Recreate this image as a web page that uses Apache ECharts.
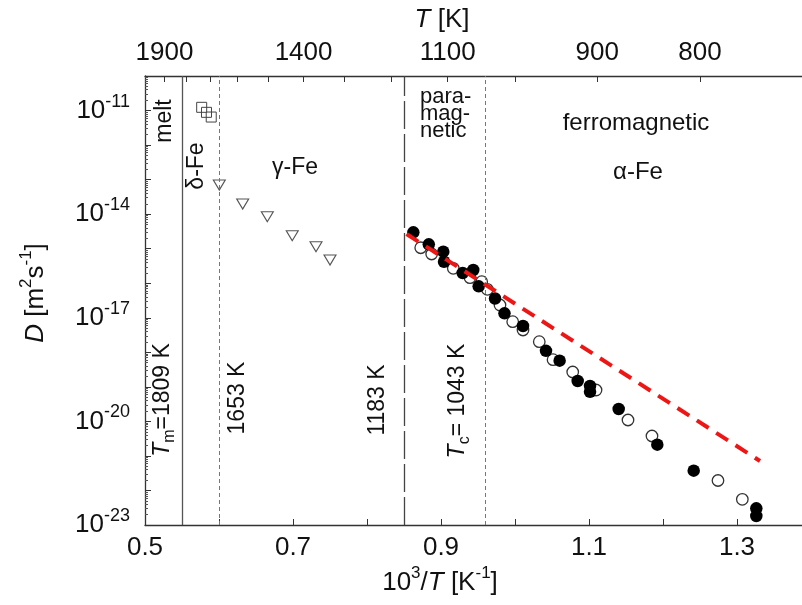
<!DOCTYPE html>
<html><head><meta charset="utf-8">
<script src="https://cdn.jsdelivr.net/npm/echarts@6/dist/echarts.min.js"></script>
<style>html,body{margin:0;padding:0;background:#fff}#c{width:802px;height:605px}</style>
</head><body><div id="c"></div>
<script>
const FONT = '"Liberation Sans", Arial, Helvetica, sans-serif';
// x = 10^3/T [K^-1], y = log10(D [m^2 s^-1])
const deltaX = [0.5766, 0.5831, 0.5895];
const deltaLogD = [-10.907, -11.052, -11.188];
const gammaX = [0.6004, 0.632, 0.6653, 0.699, 0.7311, 0.75];
const gammaLogD = [-13.156, -13.707, -14.074, -14.624, -14.943, -15.328];
const openX = [0.8726, 0.8874, 0.9166, 0.9392, 0.955, 0.9626, 0.9797, 0.9969, 1.0108, 1.0328, 1.0514, 1.078, 1.1095, 1.1527, 1.1851, 1.2743, 1.3072];
const openLogD = [-14.972, -15.154, -15.568, -15.84, -15.956, -16.176, -16.631, -17.114, -17.354, -17.693, -18.214, -18.57, -19.092, -19.96, -20.423, -21.712, -22.256];
const filledX = [0.8626, 0.8835, 0.9031, 0.9041, 0.9293, 0.9436, 0.9509, 0.973, 0.9858, 1.0108, 1.0419, 1.0603, 1.0847, 1.1014, 1.1014, 1.1401, 1.1923, 1.2415, 1.3261, 1.3261];
const filledLogD = [-14.526, -14.873, -15.087, -15.377, -15.704, -15.617, -16.089, -16.442, -16.871, -17.239, -17.957, -18.243, -18.831, -18.976, -19.141, -19.642, -20.675, -21.428, -22.517, -22.739];
const fitX = [0.8534, 1.3311];
const fitLogD = [-14.575, -21.147];
const xLabelValues = [0.5, 0.7, 0.9, 1.1, 1.3];
const topTickT = [1900, 1800, 1700, 1600, 1500, 1400, 1300, 1200, 1100, 1000, 900, 800];
const topLabelT = [1900, 1400, 1100, 900, 800];
const yLabelExp = [-23, -20, -17, -14, -11];
const yMinorFactors = [2, 3, 4, 5, 6, 7, 8, 9];
const refLinesT = [1809, 1653, 1183, 1043];

const pairs = (xs, ys) => xs.map((x, i) => [x, ys[i]]);
const yMinor = [];
for (let e = -23; e < -10; e++) yMinorFactors.forEach(f => yMinor.push(e + Math.log10(f)));

const txt = '#111';
const supRich = {
  b: {fontSize: 26, fontFamily: FONT, color: txt, lineHeight: 36},
  s: {fontSize: 18, fontFamily: FONT, color: txt, lineHeight: 12, verticalAlign: 'top'}
};
const nameRich = {
  n: {fontSize: 26, fontFamily: FONT, fill: txt, lineHeight: 36},
  i: {fontSize: 26, fontFamily: FONT, fill: txt, fontStyle: 'italic', lineHeight: 36},
  s: {fontSize: 17, fontFamily: FONT, fill: txt, lineHeight: 12, verticalAlign: 'top'},
  u: {fontSize: 16, fontFamily: FONT, fill: txt, lineHeight: 12, verticalAlign: 'bottom'}
};
const smallRich = Object.assign({}, nameRich, {
  n: {fontSize: 23, fontFamily: FONT, fill: txt, lineHeight: 30},
  i: {fontSize: 23, fontFamily: FONT, fill: txt, fontStyle: 'italic', lineHeight: 30}
});
function label(x, y, text, opts) {
  return Object.assign({
    type: 'text', x: x, y: y, silent: true,
    style: Object.assign({text: text, fontSize: 23, fontFamily: FONT, fill: txt, align: 'center', verticalAlign: 'middle', rich: nameRich}, (opts && opts.style) || {})
  }, opts && opts.rotation ? {rotation: opts.rotation} : {});
}
const R = Math.PI / 2;
const refStyles = [
  {type: 'solid', color: '#555', width: 1.3},
  {type: [4, 3], color: '#777', width: 1},
  {type: [28, 5], color: '#444', width: 1.3},
  {type: [4, 3], color: '#777', width: 1}
];

const chart = echarts.init(document.getElementById('c'), null, {renderer: 'canvas'});
chart.setOption({
  animation: false,
  backgroundColor: '#fff',
  grid: {left: 145, top: 76, right: -9, bottom: 80, outerBoundsMode: 'none', containLabel: false},
  xAxis: [{
    type: 'value', position: 'bottom', min: 0.5, max: 1.4, interval: 0.1,
    axisLine: {onZero: false, lineStyle: {color: '#333', width: 1.3}},
    axisTick: {inside: true, length: 6, lineStyle: {color: '#333'}},
    axisLabel: {customValues: xLabelValues, margin: 10, fontSize: 26, fontFamily: FONT, color: txt, formatter: v => v.toFixed(1)},
    splitLine: {show: false}
  }, {
    type: 'value', position: 'top', min: 0.5, max: 1.4,
    axisLine: {onZero: false, lineStyle: {color: '#333', width: 1.3}},
    axisTick: {inside: true, length: 6, customValues: topTickT.map(T => 1000 / T), lineStyle: {color: '#333'}},
    axisLabel: {customValues: topLabelT.map(T => 1000 / T), margin: 10, fontSize: 26, fontFamily: FONT, color: txt, formatter: v => String(Math.round(1000 / v))},
    splitLine: {show: false}
  }],
  yAxis: [{
    type: 'value', position: 'left', min: -23, max: -10, interval: 1,
    axisLine: {onZero: false, lineStyle: {color: '#333', width: 1.3}},
    axisTick: {inside: true, length: 6, lineStyle: {color: '#333'}},
    axisLabel: {customValues: yLabelExp, margin: 15, formatter: v => '{b|10}{s|' + v + '}', rich: supRich},
    splitLine: {show: false}
  }, {
    type: 'value', position: 'left', min: -23, max: -10,
    axisLine: {show: false},
    axisTick: {inside: true, length: 3, customValues: yMinor, lineStyle: {color: '#555'}},
    axisLabel: {show: false},
    splitLine: {show: false}
  }],
  series: [{
    type: 'scatter', name: 'delta', data: pairs(deltaX, deltaLogD),
    symbol: 'rect', symbolSize: 10,
    itemStyle: {color: 'rgba(255,255,255,0)', borderColor: '#444', borderWidth: 1, opacity: 1}
  }, {
    type: 'scatter', name: 'gamma', data: pairs(gammaX, gammaLogD),
    symbol: 'triangle', symbolRotate: 180, symbolSize: [12, 10],
    itemStyle: {color: '#fff', borderColor: '#555', borderWidth: 1.1, opacity: 1},
    markLine: {
      silent: true, symbol: 'none', animation: false, label: {show: false},
      data: refLinesT.map((T, i) => ({xAxis: 1000 / T, lineStyle: refStyles[i]}))
    }
  }, {
    type: 'scatter', name: 'open', data: pairs(openX, openLogD),
    symbol: 'circle', symbolSize: 11.5,
    itemStyle: {color: '#fff', borderColor: '#333', borderWidth: 1.3, opacity: 1}
  }, {
    type: 'scatter', name: 'filled', data: pairs(filledX, filledLogD),
    symbol: 'circle', symbolSize: 12.5,
    itemStyle: {color: '#000', borderColor: '#000', borderWidth: 0, opacity: 1}
  }, {
    type: 'line', name: 'fit', data: pairs(fitX, fitLogD),
    symbol: 'none', z: 5,
    lineStyle: {color: '#ee1515', width: 4, type: [14, 9]}
  }],
  graphic: {elements: [
    label(442, 20, '{i|T}{n| [K]}', {style: {fontSize: 26}}),
    label(440, 583, '{n|10}{s|3}{n|/}{i|T}{n| [K}{s|-1}{n|]}', {style: {fontSize: 26}}),
    label(36, 293, '{i|D}{n| [m}{s|2}{n|s}{s|-1}{n|]}', {rotation: R, style: {fontSize: 26}}),
    label(165, 121, 'melt', {rotation: R}),
    label(197, 166, 'δ-Fe', {rotation: R}),
    label(295, 168, 'γ-Fe'),
    {type: 'text', x: 420, y: 88, silent: true, style: {text: 'para-\nmag-\nnetic', fontSize: 22, lineHeight: 17, fontFamily: FONT, fill: txt, align: 'left', verticalAlign: 'top'}},
    label(636, 123, 'ferromagnetic', {style: {fontSize: 24}}),
    label(638, 172, 'α-Fe', {style: {fontSize: 24}}),
    label(163, 400, '{i|T}{u|m}{n|=1809 K}', {rotation: R, style: {rich: smallRich}}),
    label(238, 398, '1653 K', {rotation: R}),
    label(378, 400, '1183 K', {rotation: R}),
    label(458, 401, '{i|T}{u|c}{n|= 1043 K}', {rotation: R, style: {rich: smallRich}})
  ]}
});
</script>
</body></html>
